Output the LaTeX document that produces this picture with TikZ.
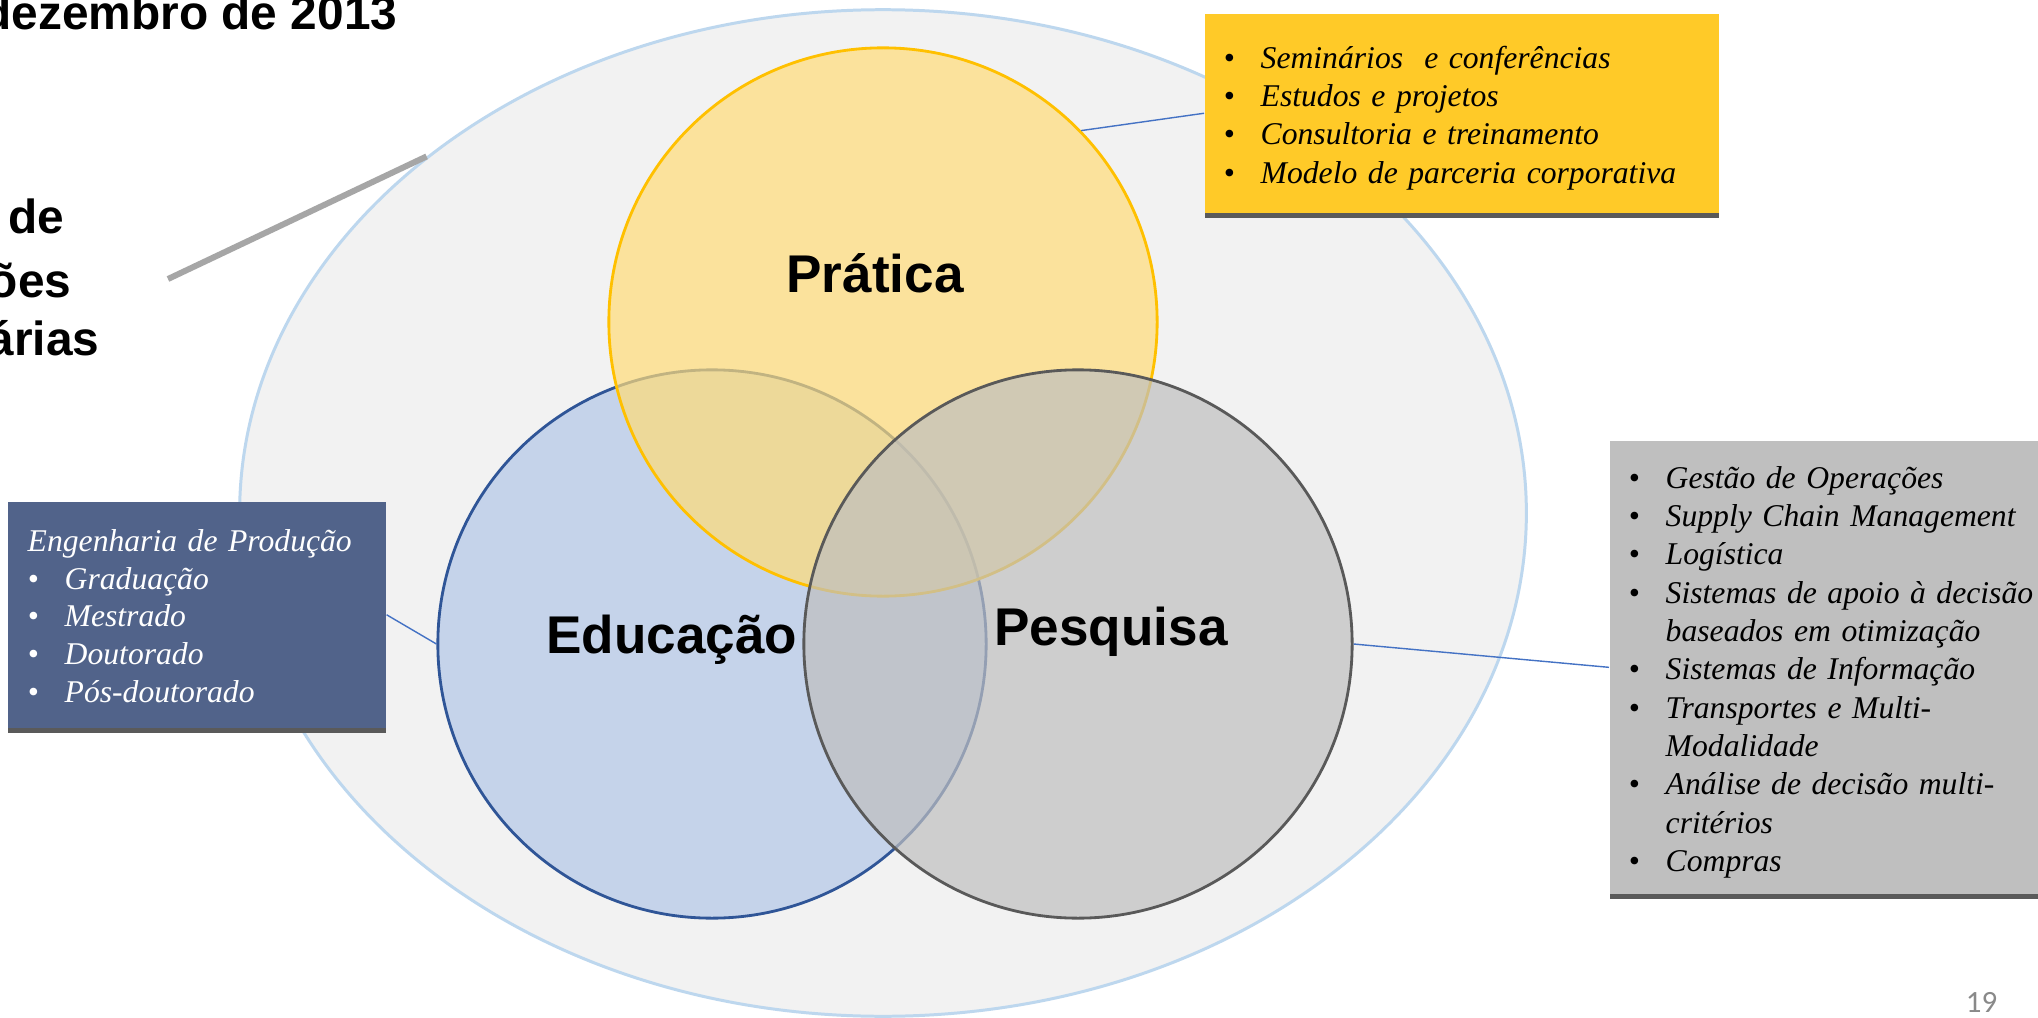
\documentclass[tikz,border=0pt]{standalone}
\usepackage{fontspec}
\setmainfont{Liberation Serif}
\newfontfamily\arialfont{Liberation Sans}
\newfontfamily\calibrifont{Carlito}
\usetikzlibrary{shapes.geometric,shadows}

\definecolor{outerfill}{HTML}{F2F2F2}
\definecolor{outerline}{HTML}{BDD7EE}
\definecolor{praticafill}{HTML}{FFDC78}
\definecolor{praticaline}{HTML}{FFC000}
\definecolor{educafill}{HTML}{C5D3EA}
\definecolor{educaline}{HTML}{2F5597}
\definecolor{pesqfill}{HTML}{BFBFBF}
\definecolor{pesqline}{HTML}{595959}
\definecolor{linkblue}{HTML}{4472C4}
\definecolor{tickgray}{HTML}{A6A6A6}
\definecolor{boxyellow}{HTML}{FFCA28}
\definecolor{boxblue}{HTML}{51638A}
\definecolor{boxgray}{HTML}{BFBFBF}
\definecolor{shadowgray}{HTML}{5A5A5A}
\definecolor{pagegray}{HTML}{898989}

\newcommand{\bul}{\makebox[0.37cm][l]{\textbullet}}
\newcommand{\ind}{\hspace*{0.37cm}}

\begin{document}
\begin{tikzpicture}[x=0.01cm,y=-0.01cm,
  circ/.style={circle,minimum size=5.48cm,inner sep=0,line width=0.8pt},
  venntext/.style={anchor=base,inner sep=0,font=\arialfont\bfseries\fontsize{15.1}{18}\selectfont},
  titletext/.style={anchor=base east,inner sep=0,font=\arialfont\bfseries\fontsize{13.6}{16}\selectfont},
  link/.style={draw=linkblue,line width=0.4pt},
  infobox/.style={rectangle,anchor=north west,inner sep=0,drop shadow={shadow xshift=0pt,shadow yshift=-1.4pt,opacity=1,fill=shadowgray}},
  boxtext/.style={anchor=base west,inner sep=0,text width=5cm,align=left,font=\fontsize{9}{10.9}\selectfont\itshape}]

\clip (0,0) rectangle (2038,1018);
\fill[white] (0,0) rectangle (2038,1018);

% Nodes
\node[ellipse,draw=outerline,fill=outerfill,line width=0.85pt,minimum width=12.86cm,minimum height=10.06cm,inner sep=0] (outer) at (883,513) {};

\node[circ,draw=educaline,fill=educafill] (edu) at (712,644) {};
\node[circ,draw=praticaline,fill=praticafill,fill opacity=.7] (pra) at (883,322) {};
\node[circ,draw=pesqline,fill=pesqfill,fill opacity=.7] (pes) at (1078,644) {};

\node[venntext] (pratxt) at (875,292) {Prática};
\node[venntext] (edutxt) at (672,653) {Educação};
\node[venntext] (pestxt) at (1111,645) {Pesquisa};

\node[titletext] (date) at (398,29) {dezembro de 2013};
\node[titletext] (frag1) at (65,233) {de};
\node[titletext] (frag2) at (72,297) {ões};
\node[titletext] (frag3) at (100,355) {árias};

\coordinate (tick) at (168,279);

% boxes
\node[infobox,fill=boxyellow,minimum width=5.14cm,minimum height=1.99cm] (prabox) at (1204,13) {};
\node[boxtext] (pralist) at ([xshift=0.19cm,yshift=-0.55cm]prabox.north west) {%
\bul Seminários\ \ e conferências\\
\bul Estudos e projetos\\
\bul Consultoria e treinamento\\
\bul Modelo de parceria corporativa};

\node[infobox,fill=boxgray,minimum width=4.5cm,minimum height=4.53cm] (pesbox) at (1609,440) {};
\node[boxtext] (peslist) at ([xshift=0.19cm,yshift=-0.48cm]pesbox.north west) {%
\bul Gestão de Operações\\
\bul Supply Chain Management\\
\bul Logística\\
\bul Sistemas de apoio à decisão\\
\ind baseados em otimização\\
\bul Sistemas de Informação\\
\bul Transportes e Multi-\\
\ind Modalidade\\
\bul Análise de decisão multi-\\
\ind critérios\\
\bul Compras};

\node[infobox,fill=boxblue,minimum width=3.78cm,minimum height=2.26cm] (edubox) at (7,501) {};
\node[boxtext,text=white,font=\fontsize{9}{10.8}\selectfont\itshape] (edulist) at ([xshift=0.20cm,yshift=-0.50cm]edubox.north west) {%
Engenharia de Produção\\
\bul Graduação\\
\bul Mestrado\\
\bul Doutorado\\
\bul Pós-doutorado};

\node[anchor=base east,inner sep=0,text=pagegray,font=\calibrifont\fontsize{8.8}{10}\selectfont] (pagenum) at (1998,1012) {19};

%lines
\draw[tickgray,line width=1.7pt] (tick) -- (outer.142);
\path (pra.44) edge[link] (prabox.west);
\path (pes.east) edge[link] (pesbox.west);
\path (edubox.east) edge[link] (edu.west);

\end{tikzpicture}
\end{document}
